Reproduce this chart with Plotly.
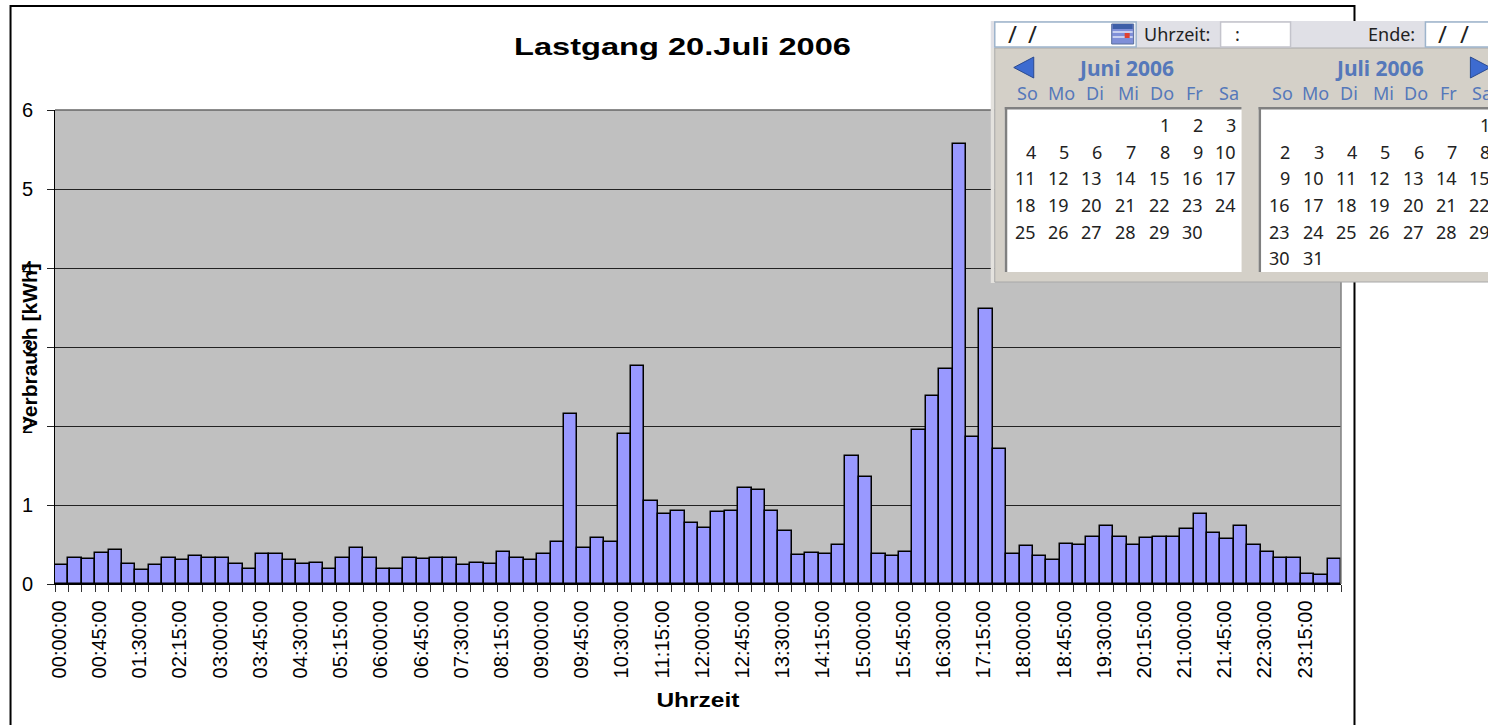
import plotly.graph_objects as go

# ---------- data ----------
TITLE = "Lastgang 20.Juli 2006"
X_TITLE = "Uhrzeit"
Y_TITLE = "Verbrauch [kWh]"

times = [f"{h:02d}:{m:02d}:00" for h in range(24) for m in (0, 15, 30, 45)]
verbrauch = [
    0.24, 0.33, 0.315, 0.395, 0.425, 0.25, 0.175, 0.24, 0.33, 0.30, 0.35, 0.33,
    0.33, 0.25, 0.19, 0.38, 0.38, 0.30, 0.25, 0.27, 0.19, 0.33, 0.46, 0.33,
    0.19, 0.19, 0.33, 0.315, 0.33, 0.33, 0.24, 0.27, 0.25, 0.41, 0.33, 0.30,
    0.38, 0.535, 2.155, 0.46, 0.585, 0.535, 1.905, 2.76, 1.057, 0.88, 0.93, 0.77,
    0.71, 0.914, 0.93, 1.214, 1.184, 0.93, 0.665, 0.365, 0.395, 0.38, 0.49, 1.62,
    1.36, 0.38, 0.36, 0.41, 1.95, 2.375, 2.72, 5.57, 1.855, 3.48, 1.715, 0.38,
    0.475, 0.36, 0.30, 0.505, 0.49, 0.60, 0.73, 0.60, 0.49, 0.585, 0.60, 0.60,
    0.695, 0.88, 0.65, 0.57, 0.73, 0.49, 0.41, 0.33, 0.33, 0.13, 0.11, 0.315,
]
y_ticks = [0, 1, 2, 3, 4, 5, 6]

# calendar overlay content
weekdays = ["So", "Mo", "Di", "Mi", "Do", "Fr", "Sa"]
june_rows = [
    ["", "", "", "", "1", "2", "3"],
    ["4", "5", "6", "7", "8", "9", "10"],
    ["11", "12", "13", "14", "15", "16", "17"],
    ["18", "19", "20", "21", "22", "23", "24"],
    ["25", "26", "27", "28", "29", "30", ""],
]
july_rows = [
    ["", "", "", "", "", "", "1"],
    ["2", "3", "4", "5", "6", "7", "8"],
    ["9", "10", "11", "12", "13", "14", "15"],
    ["16", "17", "18", "19", "20", "21", "22"],
    ["23", "24", "25", "26", "27", "28", "29"],
    ["30", "31", "", "", "", "", ""],
]

# ---------- layout geometry (page pixels) ----------
W, H = 1488, 725
PL, PR, PT, PB = 54.5, 1341.5, 110, 584


def px(x):
    return (x - PL) / (PR - PL)


def py(y):
    return (PB - y) / (PB - PT)


shapes, annos = [], []


def rect(x0, y0, x1, y1, fill=None, line=None, lw=1):
    shapes.append(dict(type="rect", xref="paper", yref="paper", layer="above",
                       x0=px(x0), x1=px(x1), y0=py(y0), y1=py(y1),
                       fillcolor=fill or "rgba(0,0,0,0)",
                       line=dict(color=line or "rgba(0,0,0,0)", width=lw if line else 0)))


def poly(points, fill, line=None, lw=1):
    d = "M" + " L".join(f"{px(a):.5f},{py(b):.5f}" for a, b in points) + " Z"
    shapes.append(dict(type="path", xref="paper", yref="paper", layer="above", path=d,
                       fillcolor=fill, line=dict(color=line or fill, width=lw)))


def text(x, y, s, size=18, color="#222222", anchor="center", bold=False, family="Noto Sans", angle=0):
    annos.append(dict(xref="paper", yref="paper", x=px(x), y=py(y), text=f"<b>{s}</b>" if bold else s,
                      showarrow=False, xanchor=anchor, yanchor="middle", align=anchor, textangle=angle,
                      borderpad=0, borderwidth=0,
                      font=dict(family=family, size=size, color=color)))


FONT = "Liberation Sans"

# outer chart frame
rect(10, 6, 1355, 760, line="#000000", lw=2)
# plot-area edge (right and top in grey)
shapes.append(dict(type="line", xref="paper", yref="paper", layer="above", x0=1, x1=1, y0=0, y1=1,
                   line=dict(color="#808080", width=1.5)))
shapes.append(dict(type="line", xref="paper", yref="paper", layer="above", x0=0, x1=1, y0=1, y1=1,
                   line=dict(color="#666666", width=1.5)))

# axis titles
text(28.5, 347, Y_TITLE, size=21, color="#000000", bold=True, family=FONT, angle=-90)
text(698.5, 700, X_TITLE, size=20, color="#000000", bold=True, family=FONT)

# calendar widget
HEAD = "#E0E0E6"
PANEL = "#D4D0C8"
BLUE = "#5578BA"
rect(991, 21, W + 5, 48, fill=HEAD)
rect(991, 48, 995, 283, fill="#E4E2DE")
rect(995, 48, W + 5, 282, fill=PANEL, line="#A8A8A8", lw=1)
rect(995, 22, 1136.5, 47, fill="#FFFFFF", line="#9DB4CC", lw=1.5)
rect(1221, 22, 1291, 47, fill="#FFFFFF", line="#C4C4CC", lw=1.5)
rect(1426, 22, W + 5, 47, fill="#FFFFFF", line="#9DB4CC", lw=1.5)
# calendar icon
rect(1112, 24, 1134, 44, fill="#7F8FD8", line="#5A6E9C", lw=1)
rect(1113, 24, 1133, 29, fill="#3E5FA8")
rect(1113, 31, 1133, 33, fill="#C8D0F0")
rect(1113, 36, 1133, 38, fill="#C8D0F0")
rect(1125, 33, 1130, 38, fill="#E04030")
# date boxes
rect(1005, 107, 1242, 272, fill="#FFFFFF")
rect(1259, 107, W + 5, 272, fill="#FFFFFF")
for x0, x1 in ((1005, 1242), (1259, W + 5)):
    rect(x0, 107, x1, 109.5, fill="#808080")
    rect(x0, 107, x0 + 2.5, 272, fill="#808080")
# arrows
poly([(1034, 57), (1034, 78), (1014, 67.5)], "#3D6BD0", "#2A4A90", 1)
poly([(1471, 57), (1471, 78), (1491, 67.5)], "#3D6BD0", "#2A4A90", 1)

for x in (1012.7, 1033, 1442.7, 1465):
    text(x, 34, "/", size=24)
text(1238, 34, ":", size=18)
text(1144, 34, "Uhrzeit:", anchor="left")
text(1416, 34, "Ende:", anchor="right")
text(1126, 68, "Juni 2006", size=21, color=BLUE, bold=True)
text(1380, 68, "Juli 2006", size=21, color=BLUE, bold=True)

june_head_x = [1028, 1061.3, 1095.3, 1129.3, 1162.7, 1194.7, 1229.3]
july_head_x = [1282.7, 1316, 1349.3, 1384, 1417, 1449.3, 1482.7]
june_col_x = [1036, 1069.3, 1102.7, 1136, 1170, 1203, 1236.7]
july_col_x = [1290.7, 1324, 1357.3, 1391, 1424.3, 1457.7, 1491]
row_y = [125, 151.7, 178.3, 205, 231.7, 258.3]
for name, hx in zip(weekdays, june_head_x):
    text(hx, 93, name, color=BLUE)
for name, hx in zip(weekdays, july_head_x):
    text(hx, 93, name, color=BLUE)
for rows, cols in ((june_rows, june_col_x), (july_rows, july_col_x)):
    for r, row in enumerate(rows):
        for c, day in enumerate(row):
            if day:
                text(cols[c], row_y[r], day, anchor="right")

# ---------- figure ----------
x_pos = list(range(len(times)))
fig = go.Figure(go.Bar(x=x_pos, y=verbrauch, marker=dict(color="#9999FF", line=dict(color="#000000", width=1.5)),
                       width=1.0, hoverinfo="x+y"))
fig.update_layout(
    width=W, height=H, autosize=False, showlegend=False,
    margin=dict(l=PL, r=W - PR, t=PT, b=H - PB, pad=0),
    paper_bgcolor="#FFFFFF", plot_bgcolor="#C0C0C0", bargap=0,
    font=dict(family=FONT, color="#000000"),
    title=dict(text=f"<b>{TITLE}</b>", x=682.5 / W, xanchor="center", y=1 - 47 / H, yanchor="middle",
               font=dict(family=FONT, size=24, color="#000000")),
    shapes=shapes, annotations=annos,
)
fig.update_xaxes(
    automargin=False,
    range=[-0.5, len(times) - 0.5], tickmode="array", tickvals=[v - 0.2 for v in x_pos[::3]], ticktext=times[::3],
    tickangle=-90, ticks="outside", ticklen=7, tickcolor="rgba(0,0,0,0)", ticklabelstandoff=0,
    tickfont=dict(family=FONT, size=21, color="#000000"),
    showgrid=False, zeroline=False, showline=True, linecolor="#000000", linewidth=1,
    minor=dict(tick0=-0.5, dtick=1, ticks="outside", ticklen=7, tickcolor="#333333", tickwidth=1, showgrid=False),
)
fig.update_yaxes(
    automargin=False,
    range=[0, 6], tickmode="array", tickvals=y_ticks, ticks="outside", ticklen=7, tickcolor="#222222",
    ticklabelstandoff=10, tickfont=dict(family=FONT, size=20, color="#000000"),
    showgrid=True, gridcolor="#222222", gridwidth=1, zeroline=False,
    showline=True, linecolor="#000000", linewidth=1,
)

stretch_js = f"""
document.body.style.margin='0';document.body.style.overflow='hidden';
function fit(t,n){{t.setAttribute('textLength',String(n));t.setAttribute('lengthAdjust','spacingAndGlyphs');}}
document.querySelectorAll('svg text').forEach(function(t){{
  var s=t.textContent;
  if(s==={TITLE!r})fit(t,337);
  if(s==={X_TITLE!r})fit(t,83);
}});
document.querySelectorAll('.xtick text').forEach(function(t){{fit(t,78);}});
"""
fig.write_html("out.html", config={"displayModeBar": False}, post_script=stretch_js)
